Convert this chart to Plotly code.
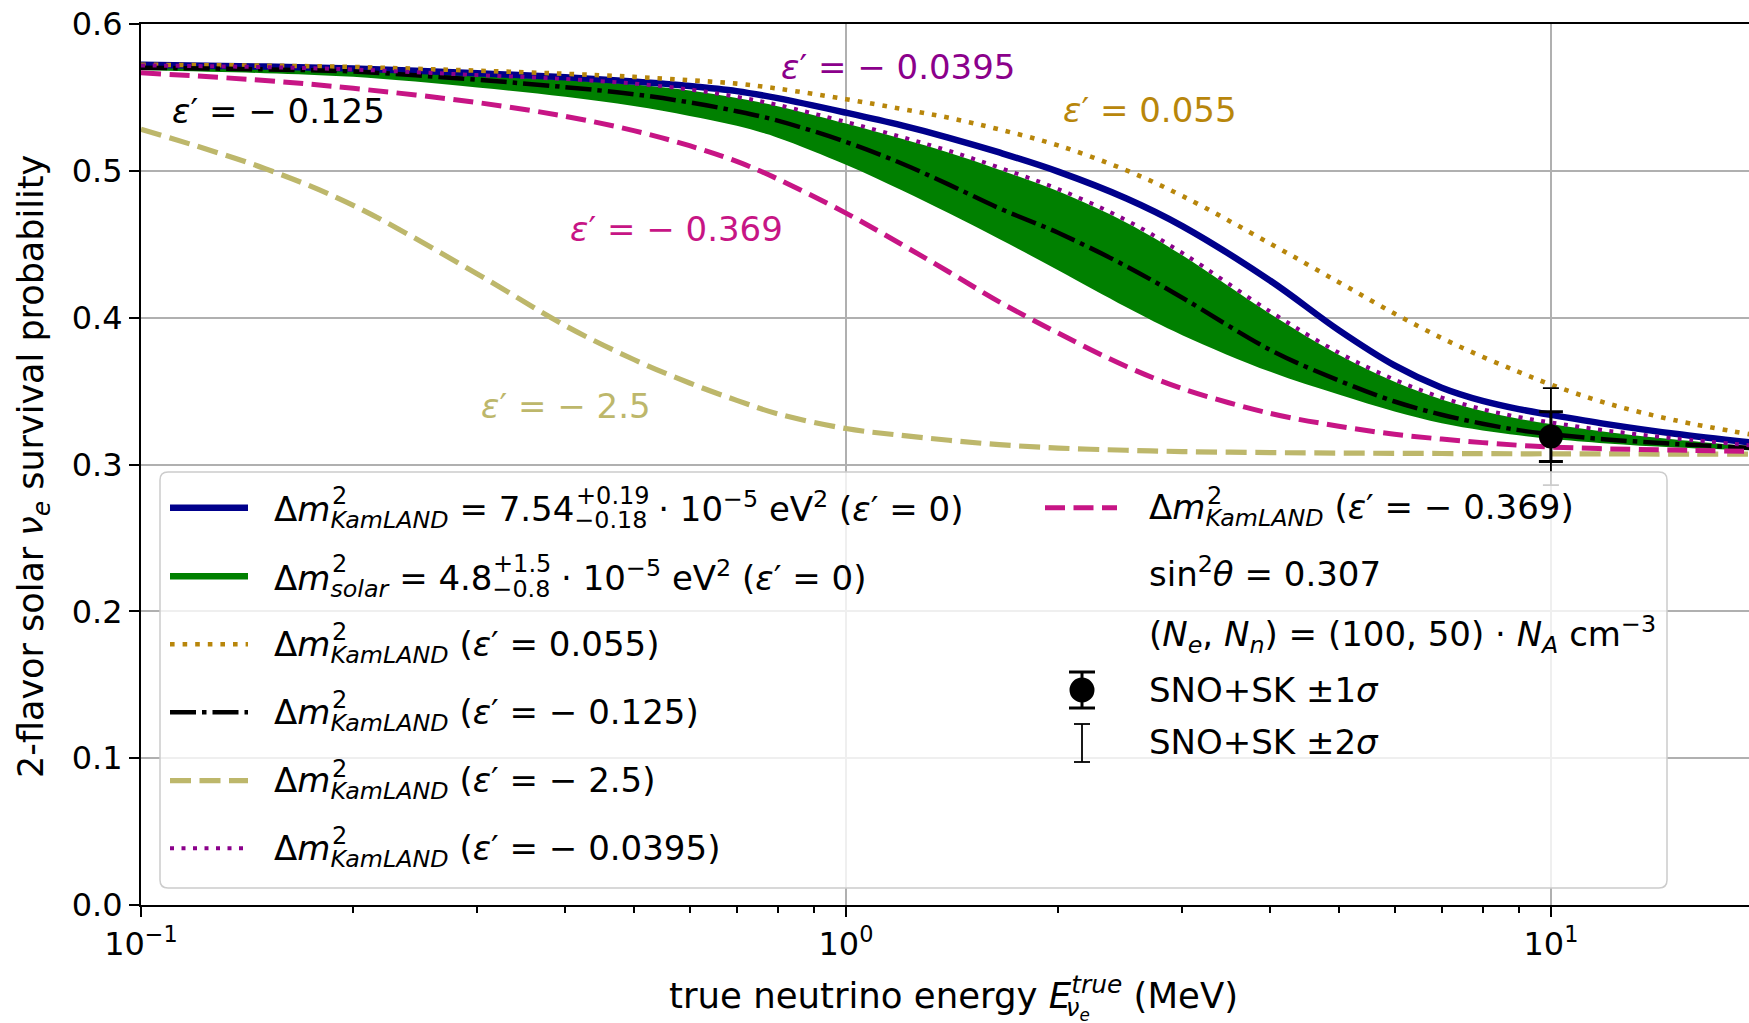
import plotly.graph_objects as go

# ---------------- data ----------------
energy = [0.1, 0.15, 0.2, 0.3, 0.4, 0.5, 0.6, 0.7, 0.8, 1.0, 1.2, 1.4, 1.65, 2.0,
          2.5, 3.0, 4.0, 5.0, 6.0, 7.0, 8.0, 9.0, 10, 12, 15, 19.2]

p_kamland = [0.5722, 0.5710, 0.5697, 0.5665, 0.5637, 0.5608, 0.5578, 0.5543, 0.5495,
             0.5396, 0.5309, 0.5225, 0.5125, 0.4995, 0.4812, 0.4624, 0.4251, 0.3915,
             0.3675, 0.3523, 0.3433, 0.3377, 0.3338, 0.3275, 0.3209, 0.3150]
p_eps_0055 = [0.5722, 0.5716, 0.5707, 0.5682, 0.5661, 0.5640, 0.5617, 0.5594, 0.5560,
              0.5488, 0.5421, 0.5361, 0.5282, 0.5173, 0.5003, 0.4829, 0.4504, 0.4242,
              0.4028, 0.3861, 0.3733, 0.3631, 0.3544, 0.3417, 0.3301, 0.3205]
p_eps_m00395 = [0.5718, 0.5706, 0.5690, 0.5652, 0.5625, 0.5594, 0.5554, 0.5504, 0.5449,
                0.5333, 0.5230, 0.5136, 0.5022, 0.4876, 0.4663, 0.4441, 0.4041, 0.3762,
                0.3578, 0.3456, 0.3376, 0.3323, 0.3286, 0.3231, 0.3178, 0.3130]
p_solar_upper = [0.5714, 0.5702, 0.5686, 0.5647, 0.5619, 0.5588, 0.5547, 0.5496, 0.5440,
                 0.5322, 0.5218, 0.5123, 0.5008, 0.4861, 0.4647, 0.4425, 0.4025, 0.3747,
                 0.3564, 0.3443, 0.3364, 0.3312, 0.3276, 0.3222, 0.3170, 0.3123]
p_solar_lower = [0.5685, 0.5665, 0.5640, 0.5568, 0.5504, 0.5441, 0.5374, 0.5307, 0.5226,
                 0.5042, 0.4868, 0.4711, 0.4536, 0.4323, 0.4071, 0.3881, 0.3631, 0.3476,
                 0.3361, 0.3281, 0.3232, 0.3199, 0.3175, 0.3143, 0.3116, 0.3097]
p_eps_m0125 = [0.5702, 0.5691, 0.5676, 0.5620, 0.5570, 0.5522, 0.5466, 0.5406, 0.5342,
               0.5197, 0.5050, 0.4906, 0.4745, 0.4578, 0.4350, 0.4136, 0.3780, 0.3572,
               0.3429, 0.3339, 0.3278, 0.3234, 0.3207, 0.3171, 0.3140, 0.3114]
p_eps_m0369 = [0.5668, 0.5615, 0.5562, 0.5465, 0.5371, 0.5274, 0.5171, 0.5064, 0.4945,
               0.4712, 0.4498, 0.4311, 0.4108, 0.3895, 0.3667, 0.3517, 0.3348, 0.3261,
               0.3206, 0.3173, 0.3149, 0.3131, 0.3119, 0.3107, 0.3098, 0.3090]
p_eps_m25 = [0.5283, 0.5015, 0.4765, 0.4298, 0.3945, 0.3715, 0.3555, 0.3437, 0.3345,
             0.3245, 0.3198, 0.3165, 0.3135, 0.3112, 0.3097, 0.3088, 0.3081, 0.3078,
             0.3076, 0.3075, 0.3074, 0.3073, 0.3073, 0.3072, 0.3071, 0.3071]

sno_energy = [10.0]
sno_p = [0.319]
sno_err_1sigma = [0.017]
sno_err_2sigma = [0.033]

x_tick_vals = [0.1, 1, 10]
x_tick_text = ["10<sup>−1</sup>", "10<sup>0</sup>", "10<sup>1</sup>"]
x_minor_vals = [0.2, 0.3, 0.4, 0.5, 0.6, 0.7, 0.8, 0.9, 2, 3, 4, 5, 6, 7, 8, 9]

# ---------------- styles ----------------
C_BLUE = "#00008B"
C_GREEN = "#008000"
C_ORANGE = "#B8860B"
C_BLACK = "#000000"
C_KHAKI = "#BDB76B"
C_PURPLE = "#8B008B"
C_PINK = "#C71585"

DASH_ORANGE = "4.6px,8px"
DASH_PURPLE = "4px,7.5px"
DASH_PINK = "20px,8.5px"
DASH_KHAKI = "21px,8.5px"
DASH_BLACK = "26px,6px,4.5px,6px"

FONT = "DejaVu Sans"
W, H = 1749, 1023
L, R, T, B = 141, 1749, 24, 905

fig = go.Figure()

# green band (solar)
fig.add_trace(go.Scatter(x=energy, y=p_solar_lower, mode="lines",
                         line=dict(width=0, color=C_GREEN, shape="spline", smoothing=1.0),
                         hoverinfo="skip"))
fig.add_trace(go.Scatter(x=energy, y=p_solar_upper, mode="lines", fill="tonexty",
                         fillcolor=C_GREEN,
                         line=dict(width=0, color=C_GREEN, shape="spline", smoothing=1.0)))


def curve(y, color, width, dash="solid"):
    fig.add_trace(go.Scatter(x=energy, y=y, mode="lines",
                             line=dict(color=color, width=width, dash=dash,
                                       shape="spline", smoothing=1.0)))


curve(p_kamland, C_BLUE, 6.5)
curve(p_eps_0055, C_ORANGE, 4.6, DASH_ORANGE)
curve(p_eps_m0125, C_BLACK, 4.5, DASH_BLACK)
curve(p_eps_m25, C_KHAKI, 5.2, DASH_KHAKI)
curve(p_eps_m00395, C_PURPLE, 4.0, DASH_PURPLE)
curve(p_eps_m0369, C_PINK, 5.0, DASH_PINK)

# SNO+SK data point
fig.add_trace(go.Scatter(x=sno_energy, y=sno_p, mode="markers",
                         marker=dict(size=0.1, color="black", opacity=0),
                         error_y=dict(type="data", array=sno_err_2sigma, visible=True,
                                      color="black", thickness=1.8, width=8)))
fig.add_trace(go.Scatter(x=sno_energy, y=sno_p, mode="markers",
                         marker=dict(size=24, color="black"),
                         error_y=dict(type="data", array=sno_err_1sigma, visible=True,
                                      color="black", thickness=3, width=12)))

fig.update_layout(
    width=W, height=H, showlegend=False,
    margin=dict(l=L, r=W - R, t=T, b=H - B, pad=0),
    paper_bgcolor="white", plot_bgcolor="white",
    font=dict(family=FONT, color="black", size=32),
)
fig.update_xaxes(type="log", range=[-1, 1.281], tickmode="array",
                 tickvals=x_tick_vals, ticktext=x_tick_text,
                 ticks="outside", ticklen=10, tickwidth=2, tickcolor="black",
                 showline=True, linecolor="black", linewidth=2, mirror=True,
                 showgrid=True, gridcolor="#b0b0b0", gridwidth=1.6, zeroline=False,
                 tickfont=dict(size=32, family=FONT),
                 minor=dict(tickmode="array", tickvals=x_minor_vals, ticks="outside",
                            ticklen=6, tickwidth=1.5, tickcolor="black", showgrid=False))
fig.update_yaxes(range=[0, 0.6], tick0=0, dtick=0.1, tickformat=".1f",
                 ticks="outside", ticklen=10, tickwidth=2, tickcolor="black",
                 showline=True, linecolor="black", linewidth=2, mirror=False,
                 showgrid=True, gridcolor="#b0b0b0", gridwidth=1.6, zeroline=False,
                 tickfont=dict(size=32, family=FONT))


# ---------------- helpers (pixel -> paper) ----------------
def pxx(x):
    return (x - L) / (R - L)


def pxy(y):
    return (B - y) / (B - T)


def ann(text, x, y, size=34, color="black", xanchor="left", yanchor="middle", angle=0):
    fig.add_annotation(text=text, x=pxx(x), y=pxy(y), xref="paper", yref="paper",
                       showarrow=False, xanchor=xanchor, yanchor=yanchor, textangle=angle,
                       font=dict(size=size, color=color, family=FONT), borderpad=0)


def seg(x0, y0, x1, y1, color, width, dash="solid"):
    fig.add_shape(type="line", xref="paper", yref="paper",
                  x0=pxx(x0), y0=pxy(y0), x1=pxx(x1), y1=pxy(y1),
                  line=dict(color=color, width=width, dash=dash), layer="above")


# ---------------- curve labels ----------------
EPS = "<i>ε</i>′"
ann(EPS + " = − 0.125", 171, 111, 34, C_BLACK)
ann(EPS + " = − 0.0395", 780, 67, 34, C_PURPLE)
ann(EPS + " = 0.055", 1062, 110, 34, C_ORANGE)
ann(EPS + " = − 0.369", 569, 229, 34, C_PINK)
ann(EPS + " = − 2.5", 480, 406, 34, C_KHAKI)

# ---------------- legend (drawn by hand) ----------------
bx0, by0, bx1, by1, rr = 160, 472, 1667, 888, 8
path = (f"M {pxx(bx0 + rr)},{pxy(by0)} L {pxx(bx1 - rr)},{pxy(by0)} "
        f"Q {pxx(bx1)},{pxy(by0)} {pxx(bx1)},{pxy(by0 + rr)} "
        f"L {pxx(bx1)},{pxy(by1 - rr)} Q {pxx(bx1)},{pxy(by1)} {pxx(bx1 - rr)},{pxy(by1)} "
        f"L {pxx(bx0 + rr)},{pxy(by1)} Q {pxx(bx0)},{pxy(by1)} {pxx(bx0)},{pxy(by1 - rr)} "
        f"L {pxx(bx0)},{pxy(by0 + rr)} Q {pxx(bx0)},{pxy(by0)} {pxx(bx0 + rr)},{pxy(by0)} Z")
fig.add_shape(type="path", path=path, xref="paper", yref="paper",
              fillcolor="rgba(255,255,255,0.8)", line=dict(color="#cccccc", width=1.5),
              layer="above")

DM = "Δ<i>m</i>"
KAM = "<sub><i>KamLAND</i></sub>"
col1_rows = [507.7, 576.2, 644.3, 712.3, 780.7, 848.3]
s0, s1, tx = 170, 248, 273
styles = [(C_BLUE, 6.5, "solid"), (C_GREEN, 6.5, "solid"), (C_ORANGE, 4.6, DASH_ORANGE),
          (C_BLACK, 4.5, DASH_BLACK), (C_KHAKI, 5.2, DASH_KHAKI), (C_PURPLE, 4.0, DASH_PURPLE)]
texts = [
    DM + KAM + " = 7.54<sub>−0.18</sub> · 10<sup>−5</sup> eV<sup>2</sup> (" + EPS + " = 0)",
    DM + "<sub><i>solar</i></sub> = 4.8<sub>−0.8</sub> · 10<sup>−5</sup> eV<sup>2</sup> (" + EPS + " = 0)",
    DM + KAM + " (" + EPS + " = 0.055)",
    DM + KAM + " (" + EPS + " = − 0.125)",
    DM + KAM + " (" + EPS + " = − 2.5)",
    DM + KAM + " (" + EPS + " = − 0.0395)",
]
for yc, (c, w, d), t in zip(col1_rows, styles, texts):
    seg(s0, yc, s1, yc, c, w, d)
    ann(t, tx, yc + 2, 34)
    ann("2", tx + 58, yc - 12, 24)
ann("+0.19", tx + 302, col1_rows[0] - 12, 24)
ann("+1.5", tx + 219, col1_rows[1] - 12, 24)

# column 2
c2s0, c2s1, c2tx = 1045, 1117, 1148
seg(c2s0, 507.7, c2s1, 507.7, C_PINK, 5.0, DASH_PINK)
ann(DM + KAM + " (" + EPS + " = − 0.369)", c2tx, 509.7, 34)
ann("2", c2tx + 58, 507.7 - 12, 24)
ann("sin<sup>2</sup><i>θ</i> = 0.307", c2tx, 572, 34)
ann("(<i>N</i><sub><i>e</i></sub>, <i>N</i><sub><i>n</i></sub>) = (100, 50) · "
    "<i>N</i><sub><i>A</i></sub> cm<sup>−3</sup>", c2tx, 634, 34)
ann("SNO+SK ±1<i>σ</i>", c2tx, 690, 34)
ann("SNO+SK ±2<i>σ</i>", c2tx, 742, 34)
# error-bar legend glyphs
cx = 1082
fig.add_shape(type="circle", xref="paper", yref="paper",
              x0=pxx(cx - 12.5), x1=pxx(cx + 12.5), y0=pxy(690 + 12.5), y1=pxy(690 - 12.5),
              fillcolor="black", line=dict(width=0), layer="above")
seg(cx, 672, cx, 708, "black", 3)
seg(cx - 13, 672, cx + 13, 672, "black", 3)
seg(cx - 13, 708, cx + 13, 708, "black", 3)
seg(cx, 724, cx, 762, "black", 1.8)
seg(cx - 8, 724, cx + 8, 724, "black", 1.8)
seg(cx - 8, 762, cx + 8, 762, "black", 1.8)

# ---------------- axis titles ----------------
ann("2-flavor solar <i>ν</i><sub><i>e</i></sub> survival probability", 33, 467, 35,
    xanchor="center", yanchor="middle", angle=-90)
ann("true neutrino energy <i>E</i><sup><i>true</i></sup> (MeV)", 953, 993, 35.5,
    xanchor="center", yanchor="middle")
ann("<i>ν</i><sub><i>e</i></sub>", 1065, 1009, 24)

fig.write_html("out.html", config={"displayModeBar": False},
               post_script="document.body.style.margin='0px';")
